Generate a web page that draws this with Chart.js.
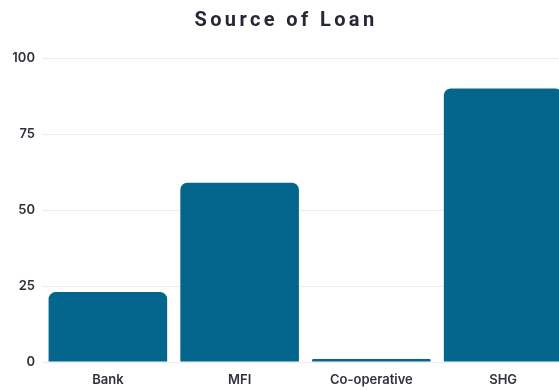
<!DOCTYPE html>
<html>
<head>
<meta charset="utf-8">
<script src="https://cdn.jsdelivr.net/npm/chart.js@4"></script>
<style>
  html, body { margin: 0; padding: 0; background: #fff; overflow: hidden; }
  #wrap { width: 570px; height: 390px; }
</style>
</head>
<body>
<div id="wrap"><canvas id="loan"></canvas></div>
<script>
'use strict';

var titleText = "Source of Loan";
var categories = ["Bank", "MFI", "Co-operative", "SHG"];
var loanCounts = [23, 59, 1, 90];
var yTicks = [0, 25, 50, 75, 100];

// title drawn by hand so the letters can be spaced out
var spacedTitle = {
    id: 'spacedTitle',
    afterDraw: function(chart) {
        var ctx = chart.ctx;
        ctx.save();
        ctx.font = "bold 20px 'Roboto', 'DejaVu Sans', sans-serif";
        ctx.fillStyle = "#262838";
        ctx.textAlign = "center";
        ctx.textBaseline = "middle";
        if ('letterSpacing' in ctx) ctx.letterSpacing = "3.4px";
        ctx.fillText(titleText, chart.width / 2 + 1, 21);
        ctx.restore();
    }
};

var ctx = document.getElementById("loan").getContext('2d');
var chart = new Chart(ctx, {
    type: 'bar',
    data: {
        labels: categories,
        datasets: [{
            data: loanCounts,
            backgroundColor: "#05668d",
            borderRadius: { topLeft: 7, topRight: 7, bottomLeft: 0, bottomRight: 0 },
            borderSkipped: 'bottom',
            barPercentage: 0.9,
            categoryPercentage: 1.0
        }]
    },
    options: {
        responsive: true,
        maintainAspectRatio: false,
        animation: false,
        layout: { padding: { top: 58, right: 1, left: 0, bottom: 0 } },
        plugins: {
            legend: { display: false },
            title: { display: false },
            tooltip: { enabled: false }
        },
        scales: {
            x: {
                afterFit: function(axis) { axis.height = 28; },
                grid: { display: false, drawTicks: false },
                border: { display: false },
                ticks: {
                    color: "#30313c",
                    padding: 10,
                    font: { family: "Inter, 'DejaVu Sans', sans-serif", size: 13, weight: '600' }
                }
            },
            y: {
                min: 0,
                max: 100,
                afterBuildTicks: function(axis) {
                    axis.ticks = yTicks.map(function(v) { return { value: v }; });
                },
                afterFit: function(axis) { axis.width = 42; },
                grid: { color: "#ececf0", drawTicks: false },
                border: { display: false },
                ticks: {
                    color: "#30313c",
                    padding: 7,
                    font: { family: "Inter, 'DejaVu Sans', sans-serif", size: 13, weight: '600' }
                }
            }
        }
    },
    plugins: [spacedTitle]
});
</script>
</body>
</html>
